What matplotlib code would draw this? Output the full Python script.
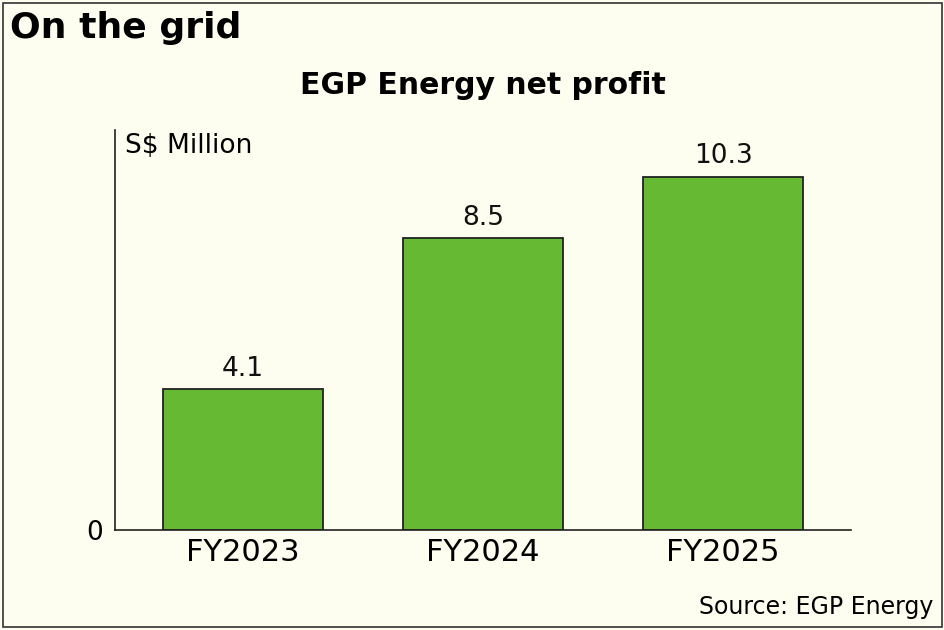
import matplotlib.pyplot as plt
from matplotlib.patches import Rectangle

years = ["FY2023", "FY2024", "FY2025"]
profit = [4.1, 8.5, 10.3]
value_labels = ["4.1", "8.5", "10.3"]

bg = "#fdfdf0"
green = "#66b933"

plt.rcParams['font.family'] = ['DejaVu Sans']

fig = plt.figure(figsize=(9.45, 6.3), dpi=100, facecolor=bg)
ax = fig.add_axes([0.1217, 0.1587, 0.9005 - 0.1217, 0.7937 - 0.1587])
ax.set_facecolor(bg)

x = list(range(len(years)))
ax.bar(x, profit, width=0.667, color=green, edgecolor="#222222", linewidth=1.3, zorder=2)
for xi, v, lab in zip(x, profit, value_labels):
    ax.text(xi, v + 0.22, lab, ha="center", va="bottom", fontsize=19, color="#111111")

ax.set_xlim(-0.533, 2.533)
ax.set_ylim(0, 11.66)
ax.set_xticks(x)
ax.set_xticklabels(years, fontsize=22)
ax.set_yticks([0])
ax.set_yticklabels(["0"], fontsize=19)
ax.tick_params(length=0, pad=6)
ax.tick_params(axis="y", pad=9)
for s in ["top", "right"]:
    ax.spines[s].set_visible(False)
for s in ["left", "bottom"]:
    ax.spines[s].set_color("#222222")
    ax.spines[s].set_linewidth(1.2)

ax.text(0.013, 0.992, "S$ Million", transform=ax.transAxes, ha="left", va="top", fontsize=19)

fig.text(0.011, 0.955, "On the grid", ha="left", va="center", fontsize=26, fontweight="bold")
fig.text(0.511, 0.865, "EGP Energy net profit", ha="center", va="center", fontsize=21.5, fontweight="bold")
fig.text(0.988, 0.037, "Source: EGP Energy", ha="right", va="center", fontsize=17)

fig.patches.append(Rectangle((0.003, 0.005), 0.994, 0.99, transform=fig.transFigure,
                             fill=False, edgecolor="#333333", linewidth=1.2))

fig.savefig("out.png", dpi=100, facecolor=bg)
